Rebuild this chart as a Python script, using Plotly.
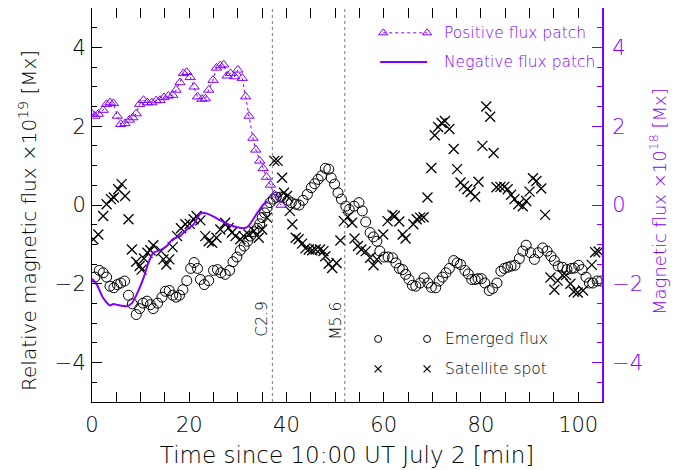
import plotly.graph_objects as go

# ---------------- data ----------------
# Positive flux patch (right axis, x1e18 Mx)
pos_t = [0.0, 0.6, 1.3, 2.3, 3.0, 3.7, 4.4, 5.2, 5.9, 6.8, 7.7, 8.4, 9.1, 9.8, 10.6, 11.4,
         12.3, 13.2, 14.0, 14.8, 15.7, 16.6, 17.3, 18.1, 18.8, 19.5, 20.2, 21.0, 21.7, 22.6,
         23.3, 24.0, 24.9, 25.6, 26.4, 27.1, 27.8, 28.5, 29.3, 30.0, 30.9, 31.6, 32.3, 33.1,
         33.7, 34.5, 35.2, 35.9, 36.7, 37.5, 38.9]
pos_flux = [2.31, 2.26, 2.31, 2.41, 2.56, 2.60, 2.58, 2.26, 2.05, 2.07, 2.16, 2.22, 2.32, 2.56,
            2.66, 2.60, 2.60, 2.65, 2.66, 2.73, 2.77, 2.79, 2.92, 3.11, 3.34, 3.37, 3.24, 3.00,
            2.75, 2.69, 2.70, 2.92, 3.17, 3.48, 3.54, 3.56, 3.28, 3.34, 3.26, 3.43, 3.22, 2.75,
            2.26, 1.70, 1.40, 1.12, 0.93, 0.71, 0.51, 0.26, 0.0]

# Negative flux patch (right axis, x1e18 Mx)
neg_t = [0.0, 1.0, 2.3, 3.7, 4.4, 5.4, 7.2, 8.2, 9.2, 10.6, 11.6, 12.6, 14.0, 15.4, 16.6,
         18.1, 19.5, 20.9, 22.1, 22.6, 24.3, 26.4, 28.5, 31.2, 32.2, 34.0, 35.3, 36.1]
neg_flux = [-1.87, -2.02, -2.36, -2.55, -2.51, -2.54, -2.57, -2.49, -2.27, -1.85, -1.47, -1.21,
            -1.15, -1.04, -0.87, -0.79, -0.62, -0.49, -0.24, -0.20, -0.25, -0.39, -0.52, -0.59,
            -0.53, -0.20, 0.02, 0.10]

# Emerged flux (left axis, x1e19 Mx)
emg_t = [0.6, 1.5, 2.3, 3.0, 3.7, 4.5, 5.2, 5.9, 6.7, 7.5, 8.3, 9.1, 9.8, 10.5, 11.3, 12.0,
         12.6, 13.5, 14.4, 15.1, 15.9, 16.6, 17.3, 18.0, 18.7, 19.5, 20.3, 21.0, 21.7, 22.3,
         23.1, 24.0, 25.0, 25.8, 26.5, 27.4, 28.3, 29.0, 29.8, 30.5, 31.3, 32.0, 32.6, 33.3,
         34.0, 34.5, 35.0, 35.5, 36.0, 36.6, 37.3, 37.9, 38.8, 39.4, 40.3, 41.0, 41.9, 42.6,
         43.4, 44.3, 45.1, 45.8, 46.5, 47.2, 48.0, 48.7, 49.2, 49.9, 50.6, 51.3, 52.2, 52.9,
         53.9, 54.9, 55.6, 56.3, 57.2, 57.9, 58.6, 59.2, 60.1, 60.9, 61.8, 62.5, 63.2, 63.9,
         64.5, 65.2, 65.9, 66.6, 67.5, 68.3, 69.1, 69.8, 70.7, 71.4, 72.1, 72.8, 73.5, 74.4,
         75.1, 75.8, 76.7, 77.4, 78.1, 78.8, 79.4, 80.1, 80.8, 81.7, 82.4, 83.3, 84.1, 84.8,
         85.5, 86.2, 87.0, 87.9, 88.6, 89.3, 90.2, 91.0, 91.8, 92.7, 93.6, 94.4, 95.1, 95.9,
         96.8, 97.7, 98.6, 99.2, 100.1, 100.8, 101.6, 102.3, 103.0, 103.9, 104.7]
emg_flux = [-1.83, -1.66, -1.72, -1.83, -2.06, -2.10, -2.02, -1.98, -1.93, -2.29, -2.51, -2.78,
            -2.63, -2.49, -2.44, -2.53, -2.63, -2.49, -2.34, -2.19, -2.17, -2.29, -2.34, -2.29,
            -2.15, -1.92, -1.61, -1.46, -1.61, -1.89, -2.02, -1.92, -1.66, -1.64, -1.72, -1.76,
            -1.66, -1.44, -1.32, -1.15, -1.04, -0.92, -0.79, -0.68, -0.59, -0.48, -0.32, -0.20,
            -0.07, 0.06, 0.15, 0.20, 0.20, 0.19, 0.12, 0.06, 0.02, 0.0, 0.12, 0.27, 0.44, 0.54,
            0.65, 0.74, 0.93, 0.91, 0.69, 0.53, 0.31, 0.15, -0.03, -0.11, -0.03, 0.06, -0.15,
            -0.43, -0.70, -0.81, -0.92, -1.17, -1.32, -1.32, -1.34, -1.47, -1.61, -1.64, -1.76,
            -1.89, -2.04, -2.06, -1.98, -1.85, -1.98, -2.09, -2.10, -1.93, -1.83, -1.72, -1.61,
            -1.41, -1.47, -1.51, -1.66, -1.75, -1.89, -1.89, -1.87, -1.87, -1.98, -2.17, -2.12,
            -1.98, -1.68, -1.61, -1.58, -1.55, -1.53, -1.36, -1.17, -1.02, -1.21, -1.38, -1.21,
            -1.09, -1.17, -1.30, -1.41, -1.55, -1.58, -1.64, -1.61, -1.60, -1.53, -1.64, -1.83,
            -1.98, -1.98, -1.93, -1.93]

# Satellite spot (left axis, x1e19 Mx)
sat_t = [0.3, 1.3, 2.3, 3.0, 3.9, 4.5, 5.4, 6.1, 6.8, 7.5, 8.2, 9.1, 9.8, 10.2, 10.7, 11.4,
         12.0, 12.6, 14.2, 14.7, 15.3, 15.9, 16.6, 17.5, 18.3, 19.2, 20.1, 20.9, 21.5, 22.3,
         23.3, 24.0, 24.7, 25.6, 26.4, 27.4, 28.1, 28.8, 29.5, 30.5, 31.2, 32.2, 33.3, 34.3,
         35.0, 36.0, 37.5, 38.2, 39.1, 39.5, 40.1, 40.7, 41.2, 41.9, 42.5, 43.2, 43.9, 44.6,
         45.3, 46.0, 46.9, 47.6, 48.0, 48.7, 49.4, 50.3, 51.1, 51.8, 52.6, 53.5, 54.0, 54.7,
         55.4, 56.3, 57.2, 57.9, 58.6, 59.9, 60.8, 61.8, 62.3, 63.2, 63.9, 64.5, 66.1, 66.8,
         67.5, 68.2, 69.0, 69.8, 70.5, 71.2, 71.9, 72.6, 73.5, 74.4, 75.1, 75.8, 76.5, 77.2,
         77.9, 78.8, 79.5, 80.3, 81.1, 81.9, 82.6, 83.2, 84.0, 84.8, 85.5, 86.2, 86.9, 87.7,
         88.6, 89.3, 90.0, 90.7, 91.4, 92.4, 93.2, 94.3, 95.1, 95.8, 96.8, 97.5, 98.4, 99.1,
         99.9, 101.0, 102.8, 103.5, 104.2]
sat_flux = [-0.87, -0.75, -0.28, 0.02, 0.15, 0.19, 0.40, 0.53, 0.23, -0.36, -1.13, -1.44,
            -1.55, -1.64, -1.36, -1.21, -1.15, -1.02, -1.17, -1.38, -1.51, -1.38, -1.07, -0.79,
            -0.59, -0.49, -0.48, -0.36, -0.28, -0.39, -0.79, -0.92, -0.96, -0.83, -0.62, -0.45,
            -0.58, -0.70, -0.79, -0.87, -0.79, -0.75, -0.66, -0.83, -0.62, -0.32, 1.12, 1.12,
            0.69, 0.31, 0.23, -0.15, -0.49, -0.83, -0.87, -0.98, -1.10, -1.13, -1.15, -1.13,
            -1.13, -1.17, -1.30, -1.49, -1.60, -1.47, -0.90, -0.41, -0.30, -0.45, -0.85, -1.04,
            -1.13, -1.17, -1.34, -1.53, -1.38, -0.75, -0.41, -0.25, -0.28, -0.42, -0.75, -0.85,
            -0.49, -0.36, -0.32, -0.31, 0.19, 0.94, 1.77, 1.98, 2.08, 2.13, 1.93, 1.42, 0.91,
            0.57, 0.48, 0.40, 0.33, 0.21, 0.59, 1.50, 2.50, 2.24, 1.32, 0.45, 0.46, 0.46, 0.40,
            0.26, 0.15, 0.02, -0.03, 0.10, 0.34, 0.68, 0.61, 0.42, -0.25, -1.84, -2.15, -1.92,
            -1.78, -1.78, -2.00, -2.20, -2.22, -2.17, -1.52, -1.20, -1.18]

# Flare times and labels
flare_t = [37.1, 52.0]
flare_labels = ["C2.9", "M5.6"]

x_ticks = [0, 20, 40, 60, 80, 100]
y_ticks = [-4, -2, 0, 2, 4]

PURPLE = "#7f00ff"
FONT = "DejaVu Sans"
W = 200  # light weight

fig = go.Figure()

fig.add_trace(go.Scatter(x=pos_t, y=pos_flux, yaxis="y2", mode="lines+markers",
                         line=dict(color=PURPLE, width=1, dash="dot"),
                         marker=dict(symbol="triangle-up-open", size=9, color=PURPLE,
                                     line=dict(width=1, color=PURPLE)),
                         showlegend=False))
fig.add_trace(go.Scatter(x=neg_t, y=neg_flux, yaxis="y2", mode="lines",
                         line=dict(color=PURPLE, width=2, shape="spline", smoothing=0.6),
                         showlegend=False))
fig.add_trace(go.Scatter(x=emg_t, y=emg_flux, mode="markers",
                         marker=dict(symbol="circle-open", size=10, color="black",
                                     line=dict(width=1, color="black")),
                         showlegend=False))
fig.add_trace(go.Scatter(x=sat_t, y=sat_flux, mode="markers",
                         marker=dict(symbol="x-thin-open", size=10, color="black",
                                     line=dict(width=1.3, color="black")),
                         showlegend=False))

# ---- hand-drawn legends on a hidden unit overlay axis ----
fig.add_trace(go.Scatter(x=[0.571, 0.657], y=[0.937, 0.937], xaxis="x3", yaxis="y3",
                         mode="lines+markers", line=dict(color=PURPLE, width=1, dash="dot"),
                         marker=dict(symbol="triangle-up-open", size=8, color=PURPLE,
                                     line=dict(width=1, color=PURPLE)),
                         showlegend=False, hoverinfo="skip"))
fig.add_trace(go.Scatter(x=[0.565, 0.657], y=[0.863, 0.863], xaxis="x3", yaxis="y3",
                         mode="lines", line=dict(color=PURPLE, width=2),
                         showlegend=False, hoverinfo="skip"))
fig.add_trace(go.Scatter(x=[0.561, 0.657], y=[0.160, 0.160], xaxis="x3", yaxis="y3",
                         mode="markers",
                         marker=dict(symbol="circle-open", size=7, color="black",
                                     line=dict(width=1, color="black")),
                         showlegend=False, hoverinfo="skip"))
fig.add_trace(go.Scatter(x=[0.561, 0.657], y=[0.084, 0.084], xaxis="x3", yaxis="y3",
                         mode="markers",
                         marker=dict(symbol="x-thin-open", size=7, color="black",
                                     line=dict(width=1.2, color="black")),
                         showlegend=False, hoverinfo="skip"))

annotations = [
    dict(x=0.686, y=0.937, xref="x3", yref="y3", text="Positive flux patch", showarrow=False,
         xanchor="left", yanchor="middle",
         font=dict(color=PURPLE, size=15.5, family=FONT, weight=W)),
    dict(x=0.686, y=0.863, xref="x3", yref="y3", text="Negative flux patch", showarrow=False,
         xanchor="left", yanchor="middle",
         font=dict(color=PURPLE, size=15.5, family=FONT, weight=W)),
    dict(x=0.688, y=0.160, xref="x3", yref="y3", text="Emerged flux", showarrow=False,
         xanchor="left", yanchor="middle",
         font=dict(color="black", size=15.5, family=FONT, weight=W)),
    dict(x=0.688, y=0.084, xref="x3", yref="y3", text="Satellite spot", showarrow=False,
         xanchor="left", yanchor="middle",
         font=dict(color="black", size=15.5, family=FONT, weight=W)),
    # y-axis titles placed as rotated annotations
    dict(x=-0.1255, y=0.462, xref="paper", yref="paper",
         text="Relative magnetic flux ×10<sup>19</sup> [Mx]", showarrow=False,
         textangle=-90, xanchor="center", yanchor="middle",
         font=dict(color="black", size=20, family=FONT, weight=W)),
    dict(x=1.110, y=0.508, xref="paper", yref="paper",
         text="Magnetic flux ×10<sup>18</sup> [Mx]", showarrow=False,
         textangle=-90, xanchor="center", yanchor="middle",
         font=dict(color=PURPLE, size=18, family=FONT, weight=W)),
]
label_pos = [(35.05, -2.9), (50.3, -2.95)]
for (lx, ly), lab in zip(label_pos, flare_labels):
    annotations.append(dict(x=lx, y=ly, xref="x", yref="y", text=lab, showarrow=False,
                            textangle=-90, xanchor="center", yanchor="middle",
                            font=dict(color="black", size=15.5, family=FONT, weight=W)))

shapes = []
for ft in flare_t:
    shapes.append(dict(type="line", xref="x", yref="paper", x0=ft, x1=ft, y0=0, y1=1,
                       line=dict(color="#777777", width=1, dash="dot")))

fig.update_layout(
    width=692, height=470,
    margin=dict(l=84, r=98, t=0, b=76),
    paper_bgcolor="white", plot_bgcolor="white",
    font=dict(family=FONT, size=21, color="black", weight=W),
    xaxis=dict(range=[0, 104.9], tickvals=x_ticks, ticks="inside", ticklen=10,
               tickwidth=1, tickcolor="black", showline=True, linecolor="black",
               linewidth=1, mirror="allticks", showgrid=False, zeroline=False,
               automargin=False, ticklabelstandoff=4,
               minor=dict(dtick=5, ticks="inside", ticklen=5, tickcolor="black"),
               tickfont=dict(size=21, weight=W),
               title=dict(text="Time since 10:00 UT July 2 [min]", standoff=10,
                          font=dict(size=23, weight=W))),
    yaxis=dict(range=[-5, 5], tickvals=y_ticks, ticks="inside", ticklen=10,
               tickwidth=1, tickcolor="black", showline=True, linecolor="black",
               linewidth=1, showgrid=False, zeroline=False, automargin=False,
               minor=dict(dtick=0.5, ticks="inside", ticklen=5, tickcolor="black"),
               ticklabelstandoff=1, tickfont=dict(size=21, weight=W)),
    yaxis2=dict(range=[-5, 5], tickvals=y_ticks, overlaying="y", side="right",
                ticks="inside", ticklen=10, tickwidth=1, tickcolor=PURPLE,
                showline=True, linecolor=PURPLE, linewidth=2, showgrid=False,
                zeroline=False, automargin=False,
                tickfont=dict(color=PURPLE, size=21, weight=W),
                minor=dict(dtick=0.5, ticks="inside", ticklen=5, tickcolor=PURPLE),
                ticklabelstandoff=4),
    xaxis3=dict(range=[0, 1], overlaying="x", visible=False),
    yaxis3=dict(range=[0, 1], overlaying="y", visible=False),
    annotations=annotations,
    shapes=shapes,
)

fig.write_html("out.html")
